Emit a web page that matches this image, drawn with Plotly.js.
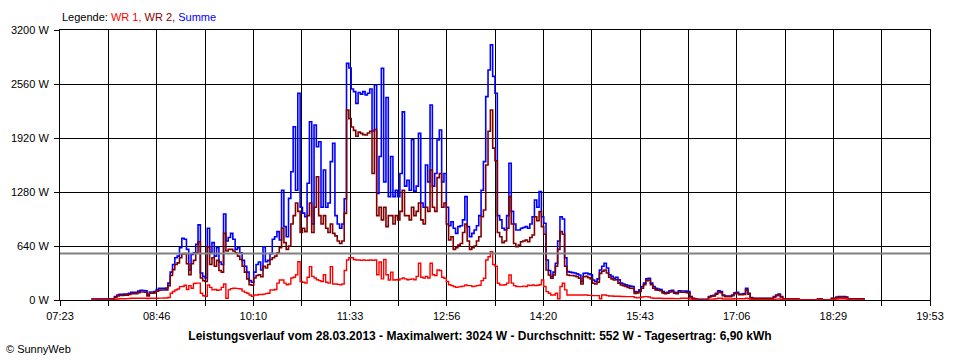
<!DOCTYPE html>
<html><head><meta charset="utf-8">
<script src="https://cdn.plot.ly/plotly-3.0.1.min.js"></script>
<style>html,body{margin:0;padding:0;background:#fff}#chart{width:960px;height:360px}</style>
</head><body><div id="chart"></div>
<script>
// Sample times: every 2 minutes starting 07:50 (minutes since midnight)
const startMinute = 470;
const stepMinutes = 2;

// WR 1 (red), W
const wr1 = [
  0,0,0,0,0,0,0,0,0,0,
  8,12,14,14,15,16,18,20,20,20,
  20,20,20,20,18,20,20,20,20,22,
  22,24,24,30,80,100,118,130,158,160,
  175,125,170,140,195,200,200,80,50,45,
  178,150,120,125,115,120,150,190,20,120,
  135,140,138,135,130,105,90,80,60,45,
  60,60,65,65,70,75,80,120,118,125,
  200,237,237,200,180,190,260,270,300,454,
  220,210,200,270,395,280,260,240,230,220,
  300,210,200,395,190,190,185,180,190,350,
  474,500,500,480,474,474,470,474,470,472,
  474,470,474,300,450,250,480,300,237,330,
  237,240,237,250,260,250,240,245,250,240,
  280,435,270,260,280,260,435,300,290,356,
  350,270,257,220,180,170,160,150,155,160,
  165,178,170,170,160,165,170,175,230,257,
  474,513,573,420,400,198,178,178,180,200,
  296,200,170,160,158,158,165,160,175,170,
  178,170,175,180,237,160,99,80,59,59,
  80,15,160,198,120,59,59,59,59,59,
  59,59,59,59,55,55,52,52,52,15,
  59,59,52,47,47,45,45,45,42,42,
  40,40,40,40,30,25,30,35,40,40,
  35,25,20,20,20,20,18,18,18,18,
  18,16,16,16,20,20,20,18,10,5,
  5,2,2,2,2,2,10,10,12,15,
  20,20,12,12,12,12,12,15,15,14,
  14,14,20,15,8,5,5,5,5,5,
  5,5,5,5,8,10,12,8,3,3,
  3,3,3,3,3,0,0,0,0,0,
  0,0,0,3,3,0,0,0,0,5,
  5,12,15,15,15,12,5,4,4,4,
  4,4,4,0
];

// WR 2 (dark red), W
const wr2 = [
  8,8,8,8,8,8,8,8,10,10,
  32,48,55,55,58,58,65,75,76,76,
  88,95,95,92,48,80,80,85,105,115,
  118,118,120,170,290,360,420,440,500,545,
  550,430,300,430,470,560,690,260,230,220,
  630,420,500,400,470,350,330,790,580,600,
  600,580,560,520,480,400,330,250,180,175,
  260,290,300,276,400,380,420,480,500,520,
  560,620,850,680,600,640,900,1000,1150,1050,
  800,850,810,1000,1150,800,1100,1461,1000,900,
  1000,850,800,900,790,760,700,670,700,1027,
  2252,2150,2050,2010,1940,1990,1975,1960,1955,1980,
  2000,1500,2020,1000,1100,950,1100,870,1000,1000,
  900,1000,950,1050,1300,1000,1000,950,1100,1000,
  1050,1150,950,900,1100,1050,1540,1100,1050,1450,
  1500,1100,1150,900,711,750,600,620,650,670,
  800,900,700,600,620,640,700,750,987,1067,
  1600,2000,2252,1800,1650,800,750,680,700,850,
  1225,900,670,632,650,690,700,711,690,740,
  770,987,940,1047,870,780,356,296,257,296,
  400,600,810,780,400,296,290,290,285,275,
  257,190,276,280,265,250,198,190,210,316,
  340,356,320,270,250,237,240,200,178,170,
  160,150,140,138,79,85,100,140,180,230,
  237,180,140,120,115,110,85,75,80,95,
  100,80,75,95,91,91,90,85,35,18,
  12,6,6,6,6,6,35,45,48,70,
  95,88,52,40,40,40,52,75,80,62,
  62,65,120,70,25,17,17,17,17,17,
  17,17,17,17,35,52,62,35,10,10,
  10,10,10,10,10,0,0,0,0,0,
  0,0,0,10,10,0,0,0,0,17,
  17,30,36,36,36,32,12,12,12,12,
  12,12,12,0
];

// Summe (blue), W
const summe = [
  10,10,10,10,10,10,10,10,12,12,
  40,60,67,67,70,72,80,90,92,92,
  105,115,112,110,59,95,95,100,125,138,
  138,140,142,200,330,420,500,520,620,731,
  720,600,356,540,560,660,890,320,280,260,
  850,560,680,520,620,450,420,1020,700,740,
  790,720,600,620,560,470,400,330,230,210,
  330,420,450,356,630,455,470,550,720,750,
  810,711,1300,870,750,1205,1520,2054,1300,2450,
  1100,1030,987,1383,2113,900,2074,1817,1876,1100,
  1540,1100,1150,1640,1857,1000,900,850,900,1200,
  2805,2750,2500,2470,2330,2460,2440,2470,2430,2450,
  2500,2000,2548,1264,1700,2746,1400,2400,1225,1700,
  1225,1300,1225,1500,2230,1350,1420,1300,1900,1290,
  1350,1975,1150,1100,1600,1400,2311,1350,1500,1896,
  2015,1400,1500,1100,880,928,850,790,870,880,
  950,1225,870,750,790,830,880,1000,1300,1640,
  2410,2726,3024,2650,2450,1000,950,850,830,1000,
  1620,1050,900,830,830,850,860,870,850,900,
  987,1185,1100,1284,987,909,474,350,276,330,
  435,700,987,960,500,336,330,325,320,310,
  296,220,316,320,310,300,237,220,250,356,
  400,435,380,300,280,257,270,240,200,190,
  180,170,165,160,99,95,120,160,200,250,
  257,200,160,138,130,125,99,85,90,110,
  115,90,85,110,107,107,105,100,40,20,
  15,8,8,8,8,8,40,51,55,80,
  110,100,60,47,47,47,60,85,91,71,
  71,75,138,80,30,20,20,20,20,20,
  20,20,20,20,40,60,71,40,12,12,
  12,12,12,12,12,0,0,0,0,0,
  0,0,0,12,12,0,0,0,0,20,
  20,35,40,40,40,35,15,15,15,15,
  15,15,15,0
];

const seriesNames = ['WR 1', 'WR 2', 'Summe'];
const seriesColors = ['#ff0000', '#800000', '#0000ff'];

const axisStartMinute = 443;  // 07:23
const axisEndMinute = 1193;   // 19:53
const xTickLabels = ['07:23','','08:46','','10:10','','11:33','','12:56','','14:20','','15:43','','17:06','','18:29','','19:53'];
const yTickVals = [0, 640, 1280, 1920, 2560, 3200];
const yTickLabels = ['0 W', '640 W', '1280 W', '1920 W', '2560 W', '3200 W'];
const averageW = 552;

const titleText = 'Leistungsverlauf vom 28.03.2013 - Maximalwert: 3024 W - Durchschnitt: 552 W - Tagesertrag: 6,90 kWh';
const legendLabel = 'Legende:';
const copyrightText = '\u00A9 SunnyWeb';

const times = summe.map((_, i) => startMinute + i * stepMinutes);
const nInt = xTickLabels.length - 1;
const xTickVals = xTickLabels.map((_, i) => axisStartMinute + i * (axisEndMinute - axisStartMinute) / nInt);

const FONT = 'Liberation Sans, Arial, sans-serif';

const traces = [
  {x: times, y: summe, name: seriesNames[2], type: 'scatter', mode: 'lines',
   line: {color: seriesColors[2], width: 1.6, shape: 'hv'}},
  {x: times, y: wr2, name: seriesNames[1], type: 'scatter', mode: 'lines',
   line: {color: seriesColors[1], width: 1.6, shape: 'hv'}},
  {x: times, y: wr1, name: seriesNames[0], type: 'scatter', mode: 'lines',
   line: {color: seriesColors[0], width: 1.4, shape: 'hv'}}
];

const legendText = legendLabel + ' ' + seriesNames.map((n, i) =>
  '<span style="color:' + seriesColors[i] + '">' + n + (i < seriesNames.length - 1 ? ',' : '') + '</span>'
).join(' ');

const layout = {
  width: 960, height: 360,
  margin: {l: 60, r: 30, t: 30, b: 60, pad: 0},
  paper_bgcolor: '#ffffff', plot_bgcolor: '#ffffff',
  font: {family: FONT, size: 11, color: '#000000'},
  showlegend: false,
  title: {text: '<b>' + titleText + '</b>', font: {family: FONT, size: 12, color: '#000000'},
          x: 0.5, xref: 'container', xanchor: 'center', y: 24 / 360, yref: 'container', yanchor: 'middle'},
  xaxis: {range: [axisStartMinute, axisEndMinute], tickmode: 'array', tickvals: xTickVals, ticktext: xTickLabels,
          ticks: 'outside', ticklen: 5, tickwidth: 1, tickcolor: '#000000', ticklabelstandoff: 1,
          showgrid: true, gridcolor: '#000000', gridwidth: 1,
          showline: true, mirror: true, linecolor: '#000000', linewidth: 1, zeroline: false,
          tickfont: {family: FONT, size: 11, color: '#000000'}},
  yaxis: {range: [0, 3200], tickmode: 'array', tickvals: yTickVals, ticktext: yTickLabels,
          ticks: 'outside', ticklen: 5, tickwidth: 1, tickcolor: '#000000', ticklabelstandoff: 3,
          showgrid: true, gridcolor: '#000000', gridwidth: 1,
          showline: true, mirror: true, linecolor: '#000000', linewidth: 1, zeroline: false,
          tickfont: {family: FONT, size: 11, color: '#000000'}},
  shapes: [{type: 'line', xref: 'paper', x0: 0, x1: 1, yref: 'y', y0: averageW, y1: averageW,
            line: {color: '#808080', width: 2}, layer: 'above'}],
  annotations: [
    {text: legendText, xref: 'paper', yref: 'paper', x: 0, y: (300 - 17) / 270,
     xanchor: 'left', yanchor: 'middle', showarrow: false, font: {family: FONT, size: 11, color: '#000000'}},
    {text: copyrightText, xref: 'paper', yref: 'paper', x: (4 - 60) / 870, y: (300 - 349) / 270,
     xanchor: 'left', yanchor: 'middle', showarrow: false, font: {family: FONT, size: 11, color: '#000000'}}
  ]
};

Plotly.newPlot('chart', traces, layout, {staticPlot: true, displayModeBar: false});
</script>
</body></html>
